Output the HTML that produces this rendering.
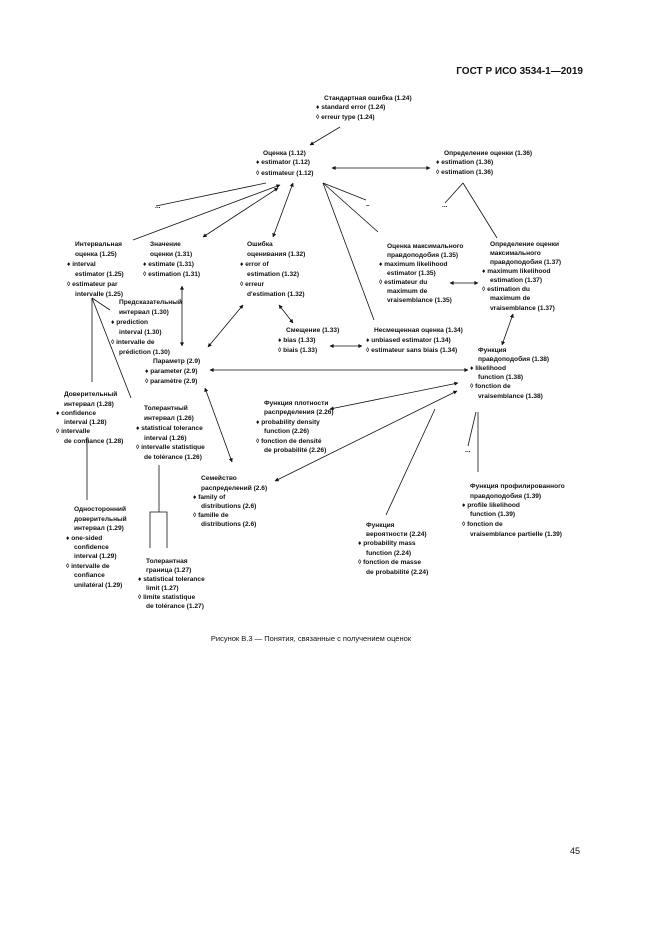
<!DOCTYPE html>
<html><head><meta charset="utf-8"><style>
html,body{margin:0;padding:0;background:#fff;}
svg{display:block;}
text{font-family:"Liberation Sans",sans-serif;font-size:6.6px;font-weight:bold;fill:#111;}
.l{stroke:#111;stroke-width:0.8;fill:none;}
</style></head><body>
<svg width="661" height="935" viewBox="0 0 661 935" xmlns="http://www.w3.org/2000/svg">
<defs><marker id="a" viewBox="0 0 10 10" refX="9" refY="5" markerWidth="7" markerHeight="5" orient="auto-start-reverse"><path d="M0,0 L10,5 L0,10 z" fill="#111"/></marker></defs>
<text x="583" y="74" text-anchor="end" style="font-size:10px">ГОСТ Р ИСО 3534-1—2019</text>
<g>
<text x="324" y="100">Стандартная ошибка (1.24)</text><text x="316" y="109">♦ standard error (1.24)</text><text x="316" y="119">◊ erreur type (1.24)</text>
<text x="263" y="155">Оценка (1.12)</text><text x="256" y="164">♦ estimator (1.12)</text><text x="256" y="175">◊ estimateur (1.12)</text>
<text x="444" y="155">Определение оценки (1.36)</text><text x="436" y="164">♦ estimation (1.36)</text><text x="436" y="174">◊ estimation (1.36)</text>
<text x="155" y="208">...</text><text x="366" y="207">–</text><text x="442" y="207">...</text>
<text x="75" y="246">Интервальная</text><text x="75" y="256">оценка (1.25)</text><text x="67" y="266">♦ interval</text><text x="75" y="276">estimator (1.25)</text><text x="67" y="286">◊ estimateur par</text><text x="75" y="296">intervalle (1.25)</text>
<text x="150" y="246">Значение</text><text x="150" y="256">оценки (1.31)</text><text x="143" y="266">♦ estimate (1.31)</text><text x="143" y="276">◊ estimation (1.31)</text>
<text x="247" y="246">Ошибка</text><text x="247" y="256">оценивания (1.32)</text><text x="240" y="266">♦ error of</text><text x="247" y="276">estimation (1.32)</text><text x="240" y="286">◊ erreur</text><text x="247" y="296">d'estimation (1.32)</text>
<text x="387" y="248">Оценка максимального</text><text x="387" y="257">правдоподобия (1.35)</text><text x="379" y="266">♦ maximum likelihood</text><text x="387" y="275">estimator (1.35)</text><text x="379" y="284">◊ estimateur du</text><text x="387" y="293">maximum de</text><text x="387" y="302">vraisemblance (1.35)</text>
<text x="490" y="246">Определение оценки</text><text x="490" y="255">максимального</text><text x="490" y="264">правдоподобия (1.37)</text><text x="482" y="273">♦ maximum likelihood</text><text x="490" y="282">estimation (1.37)</text><text x="482" y="291">◊ estimation du</text><text x="490" y="300">maximum de</text><text x="490" y="310">vraisemblance (1.37)</text>
<text x="119" y="304">Предсказательный</text><text x="119" y="314">интервал (1.30)</text><text x="111" y="324">♦ prediction</text><text x="119" y="334">interval (1.30)</text><text x="111" y="344">◊ intervalle de</text><text x="119" y="354">prédiction (1.30)</text>
<text x="286" y="332">Смещение (1.33)</text><text x="278" y="342">♦ bias (1.33)</text><text x="278" y="352">◊ biais (1.33)</text>
<text x="374" y="332">Несмещенная оценка (1.34)</text><text x="366" y="342">♦ unbiased estimator (1.34)</text><text x="366" y="352">◊ estimateur sans biais (1.34)</text>
<text x="153" y="363">Параметр (2.9)</text><text x="145" y="373">♦ parameter (2.9)</text><text x="145" y="383">◊ paramètre (2.9)</text>
<text x="478" y="352">Функция</text><text x="478" y="361">правдоподобия (1.38)</text><text x="470" y="370">♦ likelihood</text><text x="478" y="379">function (1.38)</text><text x="470" y="388">◊ fonction de</text><text x="478" y="398">vraisemblance (1.38)</text>
<text x="64" y="396">Доверительный</text><text x="64" y="406">интервал (1.28)</text><text x="56" y="415">♦ confidence</text><text x="64" y="424">interval (1.28)</text><text x="56" y="433">◊ intervalle</text><text x="64" y="443">de confiance (1.28)</text>
<text x="144" y="410">Толерантный</text><text x="144" y="420">интервал (1.26)</text><text x="136" y="430">♦ statistical tolerance</text><text x="144" y="440">interval (1.26)</text><text x="136" y="449">◊ intervalle statistique</text><text x="144" y="459">de tolérance (1.26)</text>
<text x="264" y="405">Функция плотности</text><text x="264" y="414">распределения (2.26)</text><text x="256" y="424">♦ probability density</text><text x="264" y="433">function (2.26)</text><text x="256" y="443">◊ fonction de densité</text><text x="264" y="452">de probabilité (2.26)</text>
<text x="201" y="480">Семейство</text><text x="201" y="490">распределений (2.6)</text><text x="193" y="499">♦ family of</text><text x="201" y="508">distributions (2.6)</text><text x="193" y="517">◊ famille de</text><text x="201" y="526">distributions (2.6)</text>
<text x="74" y="511">Односторонний</text><text x="74" y="521">доверительный</text><text x="74" y="530">интервал (1.29)</text><text x="66" y="540">♦ one-sided</text><text x="74" y="549">confidence</text><text x="74" y="558">interval (1.29)</text><text x="66" y="568">◊ intervalle de</text><text x="74" y="577">confiance</text><text x="74" y="587">unilatéral (1.29)</text>
<text x="146" y="563">Толерантная</text><text x="146" y="572">граница (1.27)</text><text x="138" y="581">♦ statistical tolerance</text><text x="146" y="590">limit (1.27)</text><text x="138" y="599">◊ limite statistique</text><text x="146" y="608">de tolérance (1.27)</text>
<text x="366" y="527">Функция</text><text x="366" y="536">вероятности (2.24)</text><text x="358" y="545">♦ probability mass</text><text x="366" y="555">function (2.24)</text><text x="358" y="564">◊ fonction de masse</text><text x="366" y="574">de probabilité (2.24)</text>
<text x="470" y="488">Функция профилированного</text><text x="470" y="498">правдоподобия (1.39)</text><text x="462" y="507">♦ profile likelihood</text><text x="470" y="516">function (1.39)</text><text x="462" y="526">◊ fonction de</text><text x="470" y="536">vraisemblance partielle (1.39)</text>
<text x="465" y="452">...</text>
</g>
<g class="l">
<line x1="340" y1="127" x2="310" y2="145" marker-end="url(#a)"/>
<line x1="332" y1="168" x2="430" y2="168" marker-start="url(#a)" marker-end="url(#a)"/>
<line x1="266" y1="183" x2="156" y2="206"/>
<line x1="280" y1="185" x2="133" y2="240" marker-start="url(#a)"/>
<line x1="278" y1="188" x2="203" y2="237" marker-start="url(#a)" marker-end="url(#a)"/>
<line x1="293" y1="183" x2="273" y2="237" marker-start="url(#a)" marker-end="url(#a)"/>
<line x1="323" y1="183" x2="374" y2="320"/>
<line x1="323" y1="183" x2="366" y2="200"/>
<line x1="323" y1="183" x2="378" y2="232"/>
<line x1="463" y1="183" x2="445" y2="203"/>
<line x1="463" y1="183" x2="497" y2="238"/>
<line x1="450" y1="283" x2="478" y2="283" marker-start="url(#a)" marker-end="url(#a)"/>
<line x1="513" y1="314" x2="502" y2="345" marker-start="url(#a)" marker-end="url(#a)"/>
<line x1="182" y1="286" x2="182" y2="346" marker-start="url(#a)" marker-end="url(#a)"/>
<line x1="243" y1="305" x2="208" y2="347" marker-start="url(#a)" marker-end="url(#a)"/>
<line x1="279" y1="305" x2="293" y2="323" marker-start="url(#a)" marker-end="url(#a)"/>
<line x1="330" y1="346" x2="362" y2="346" marker-start="url(#a)" marker-end="url(#a)"/>
<line x1="210" y1="370" x2="468" y2="370" marker-start="url(#a)" marker-end="url(#a)"/>
<line x1="205" y1="388" x2="232" y2="462" marker-start="url(#a)" marker-end="url(#a)"/>
<line x1="330" y1="409" x2="458" y2="383" marker-start="url(#a)" marker-end="url(#a)"/>
<line x1="275" y1="481" x2="457" y2="391" marker-start="url(#a)" marker-end="url(#a)"/>
<line x1="435" y1="409" x2="386" y2="515"/>
<line x1="476" y1="412" x2="468" y2="446"/>
<line x1="478" y1="412" x2="478" y2="472"/>
<line x1="92" y1="298" x2="92" y2="382"/>
<line x1="92" y1="298" x2="131" y2="398"/>
<line x1="92" y1="298" x2="110" y2="310"/>
<line x1="87" y1="437" x2="87" y2="500"/>
<line x1="159" y1="465" x2="159" y2="512"/>
<polyline points="150,548 150,512 167,512 167,548"/>
</g>
<text x="311" y="641" text-anchor="middle" style="font-weight:normal;font-size:7.5px">Рисунок В.3 — Понятия, связанные с получением оценок</text>
<text x="570" y="854" style="font-weight:normal;font-size:9px">45</text>
</svg>
</body></html>
